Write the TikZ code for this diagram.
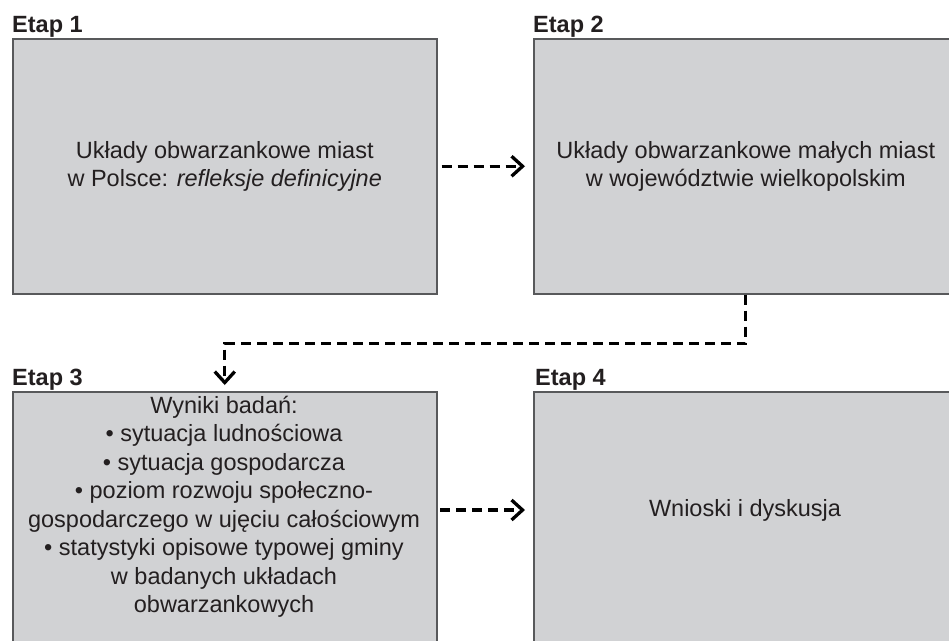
\documentclass[tikz,border=0pt]{standalone}
\usepackage{fontspec}
\setmainfont{Liberation Sans}
\usetikzlibrary{arrows.meta}
\definecolor{boxfill}{HTML}{D1D2D4}
\definecolor{boxline}{HTML}{58595B}
\definecolor{ink}{HTML}{231F20}
\begin{document}
\begin{tikzpicture}[x=1pt,y=-1pt,
  font=\fontsize{23.5}{27.5}\selectfont, text=ink,
  stagebox/.style={draw=boxline, line width=1.5pt, fill=boxfill, anchor=north west,
    minimum width=424pt, inner sep=0pt, align=center},
  stagelabel/.style={font=\fontsize{23.5}{27.5}\selectfont\bfseries, anchor=base west, inner sep=0pt},
  boxtext/.style={align=center, inner sep=0pt},
  conn/.style={draw=black, line width=3.3pt, dash pattern=on 10pt off 6pt,
    -{Straight Barb[length=11pt,width=20pt,line width=3.3pt]}}]
\useasboundingbox (0,0) rectangle (949,640);
\clip (0,0) rectangle (949,640);
\node[stagebox, minimum height=255pt] (b1) at (12,38)
  {Układy obwarzankowe miast\\ w Polsce: \textit{refleksje definicyjne}};
\node[stagebox, minimum height=255pt] (b2) at (533,38)
  {Układy obwarzankowe małych miast\\ w województwie wielkopolskim};
\node[stagebox, minimum height=300pt] (b3) at (12,391) {};
\node[stagebox, minimum height=300pt] (b4) at (533,391) {};
\node[stagelabel] (l1) at (12,32) {Etap 1};
\node[stagelabel] (l2) at (533,32) {Etap 2};
\node[stagelabel] (l3) at (12,385) {Etap 3};
\node[stagelabel] (l4) at (535,385) {Etap 4};
\node[boxtext, font=\fontsize{23.5}{28.5}\selectfont] (t3) at (224,507)
  {Wyniki badań:\\ • sytuacja ludnościowa\\ • sytuacja gospodarcza\\
   • poziom rozwoju społeczno-\\ gospodarczego w ujęciu całościowym\\
   • statystyki opisowe typowej gminy\\ w badanych układach\\ obwarzankowych};
\node[boxtext] (t4) at (745,510) {Wnioski i dyskusja};
\coordinate (a3) at (440,510);
\coordinate (a4) at (525,510);
\draw[conn] ([xshift=4pt]b1.east) -- ([xshift=-8pt]b2.west);
\draw[conn] (b2.south) -- ++(0,49) -| ([yshift=6pt]b3.north);
\draw[conn] (a3) -- (a4);
\end{tikzpicture}
\end{document}
